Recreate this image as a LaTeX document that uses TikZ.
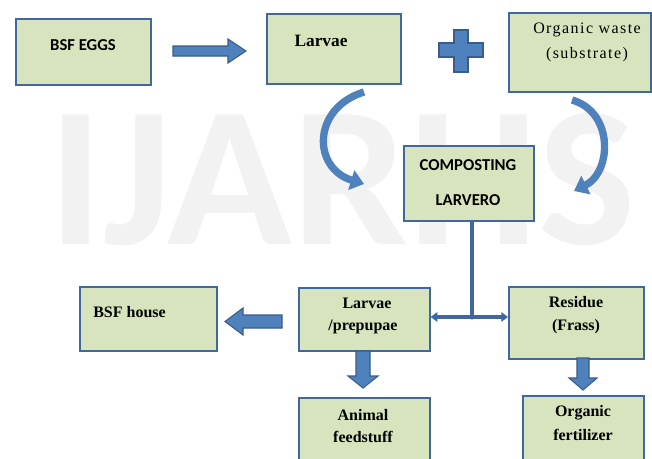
\documentclass[tikz,border=0pt]{standalone}
\usepackage{fontspec}
\setmainfont{Liberation Serif}
\newfontfamily\calib{Carlito}
\newfontfamily\spacedserif[LetterSpace=9]{Liberation Serif}
\usetikzlibrary{arrows.meta}
\definecolor{boxfill}{HTML}{D7E4BD}
\definecolor{boxline}{HTML}{40679E}
\definecolor{arrfill}{HTML}{4F81BD}
\definecolor{arrline}{HTML}{385D8A}
\definecolor{wm}{HTML}{F2F2F2}
\tikzset{
  box/.style={draw=boxline, fill=boxfill, line width=1.2pt, anchor=north west, inner sep=0pt},
  sanslbl/.style={font=\calib\bfseries\fontsize{12.5}{14}\selectfont, inner sep=0pt},
  serlbl/.style={font=\bfseries\fontsize{12}{14}\selectfont, inner sep=0pt},
  blockarrow/.style={fill=arrfill, draw=arrline, line width=0.8pt},
  curvearrow/.style={draw=arrfill, line width=5.5pt, -{Triangle[width=15pt,length=10pt]}},
  link/.style={draw=boxline, line width=3pt},
  linkarrow/.style={link, -{Triangle[width=7pt,length=5pt]}}
}
\begin{document}
\begin{tikzpicture}[x=0.75pt,y=-0.75pt]
\clip (0,0) rectangle (652,458);
\fill[white] (0,0) rectangle (652,458);
% watermark
\node[text=wm, font=\calib\bfseries\fontsize{150}{150}\selectfont, xscale=1.03, inner sep=0pt] (wmark) at (342,180) {IJARHS};

% boxes
\node[box, minimum width=135*0.75pt, minimum height=66*0.75pt] (eggs) at (15,18) {};
\node[box, minimum width=134*0.75pt, minimum height=70*0.75pt] (larvae) at (266,13) {};
\node[box, minimum width=142*0.75pt, minimum height=79*0.75pt] (waste) at (508,12) {};
\node[box, minimum width=130*0.75pt, minimum height=75*0.75pt] (comp) at (403,145) {};
\node[box, minimum width=137*0.75pt, minimum height=64*0.75pt] (house) at (79,286) {};
\node[box, minimum width=131*0.75pt, minimum height=63*0.75pt] (prep) at (298,287) {};
\node[box, minimum width=135*0.75pt, minimum height=72*0.75pt] (resid) at (508,286) {};
\node[box, minimum width=131*0.75pt, minimum height=80*0.75pt] (feed) at (298,397) {};
\node[box, minimum width=121*0.75pt, minimum height=80*0.75pt] (fert) at (522,395) {};

% labels
\node[sanslbl] (teggs) at (83,45) {BSF EGGS};
\node[font=\bfseries\fontsize{13}{14}\selectfont, inner sep=0pt] (tlarvae) at (321,41) {Larvae};
\node[font=\spacedserif\fontsize{12}{14}\selectfont, inner sep=0pt] (twaste1) at (587,30) {Organic waste};
\node[font=\spacedserif\fontsize{12}{14}\selectfont, inner sep=0pt] (twaste2) at (587,55) {(substrate)};
\node[sanslbl] (tcomp1) at (468,165) {COMPOSTING};
\node[sanslbl] (tcomp2) at (468,200) {LARVERO};
\node[serlbl, anchor=west] (thouse) at (93,312) {BSF house};
\node[serlbl] (tprep1) at (367,303) {Larvae};
\node[serlbl] (tprep2) at (363,327) {/prepupae};
\node[serlbl] (tres1) at (576,302) {Residue};
\node[serlbl] (tres2) at (576,327) {(Frass)};
\node[serlbl] (tfeed1) at (363,415) {Animal};
\node[serlbl] (tfeed2) at (363,437) {feedstuff};
\node[serlbl] (tfert1) at (583,413) {Organic};
\node[serlbl] (tfert2) at (583,435) {fertilizer};

% block arrows
\draw[blockarrow] (173,46) -- (228,46) -- (228,39) -- (246,51) -- (228,63) -- (228,56) -- (173,56) -- cycle;
\draw[blockarrow] (439,43) -- (454,43) -- (454,30) -- (468,30) -- (468,43) -- (483,43) -- (483,57) -- (468,57) -- (468,72) -- (454,72) -- (454,57) -- (439,57) -- cycle;
\draw[blockarrow] (282,315) -- (243,315) -- (243,308) -- (225,321.5) -- (243,335) -- (243,328) -- (282,328) -- cycle;
\draw[blockarrow] (356,351) -- (370,351) -- (370,376) -- (378,376) -- (363,388) -- (348,376) -- (356,376) -- cycle;
\draw[blockarrow] (577,358) -- (589,358) -- (589,378) -- (597,378) -- (583,390) -- (569,378) -- (577,378) -- cycle;

% curved arrows
\draw[curvearrow] (364,92) .. controls (312,108) and (312,168) .. (364,184);
\draw[curvearrow] (572,100) .. controls (614,112) and (612,172) .. (574,191);

% links
\coordinate (junc) at (472,317);
\draw[link] (comp.south -| junc) -- (junc);
\draw[linkarrow] (junc) -- (prep.east |- junc);
\draw[linkarrow] (junc) -- (resid.west |- junc);
\fill[boxline] (junc) circle (2.5);
\end{tikzpicture}
\end{document}
